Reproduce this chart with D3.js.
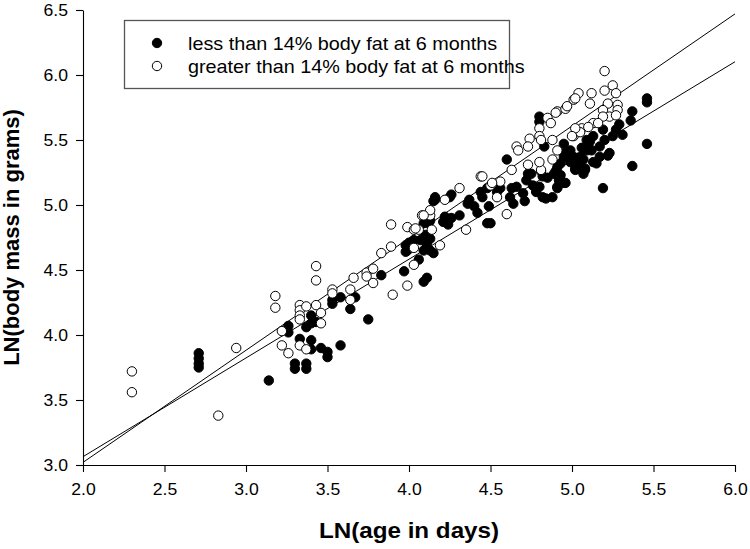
<!DOCTYPE html>
<html>
<head>
<meta charset="utf-8">
<script src="https://cdn.jsdelivr.net/npm/d3@7"></script>
<style>
  html, body { margin: 0; padding: 0; background: #fff; }
  svg { display: block; font-family: Arial, "Liberation Sans", Helvetica, sans-serif; }
</style>
</head>
<body>
<svg id="chart" width="750" height="549"></svg>
<script>
// ---- Data ----
const xTicks = [2.0, 2.5, 3.0, 3.5, 4.0, 4.5, 5.0, 5.5, 6.0];
const yTicks = [3.0, 3.5, 4.0, 4.5, 5.0, 5.5, 6.0, 6.5];
const legendLabels = ["less than 14% body fat at 6 months", "greater than 14% body fat at 6 months"];

// [LN(age in days), LN(body mass in grams)]
const leanPoints = [
  [2.71,3.86],[2.71,3.82],[2.71,3.78],[2.71,3.75],[3.14,3.65],[3.30,3.78],[3.30,3.74],[3.37,3.78],[3.37,3.74],
  [3.33,3.97],[3.40,3.96],[3.40,3.89],[3.46,3.90],[3.50,3.87],[3.50,3.83],[3.58,3.92],[3.75,4.12],[3.26,4.07],
  [3.26,4.02],[3.37,4.06],[3.40,4.15],[3.40,4.09],[3.43,4.10],[3.53,4.27],[3.53,4.24],[3.58,4.29],[3.64,4.20],
  [3.67,4.29],[3.83,4.46],[3.97,4.49],[4.09,4.41],[4.11,4.44],[3.98,4.69],[3.99,4.65],[4.03,4.73],[4.06,4.58],
  [4.09,4.65],[4.11,4.71],[4.13,4.65],[4.15,4.63],[4.10,4.77],[4.13,4.74],[4.09,4.86],[4.13,4.88],[4.16,5.04],
  [4.21,4.87],[4.22,4.91],[4.24,4.85],
  [4.80,5.68],[4.80,5.64],[4.83,5.45],[4.95,5.47],[4.99,5.42],[5.01,5.37],[5.09,5.50],[5.10,5.46],[5.12,5.42],
  [5.06,5.44],[5.05,5.37],[5.01,5.35],[5.02,5.27],[5.08,5.28],[5.07,5.24],[4.93,5.32],[4.95,5.37],[4.90,5.26],
  [4.93,5.23],[4.85,5.21],[4.91,5.14],[4.96,5.17],[4.84,5.05],[4.73,5.24],[4.72,5.19],[4.76,5.15],[4.78,5.10],
  [4.70,5.09],[4.71,5.03],[4.82,5.22],[4.80,5.14],[4.81,5.26],[4.66,5.14],[4.60,5.35],[4.63,5.13],[4.62,5.06],
  [4.64,5.01],[4.56,5.13],[4.54,5.10],[4.48,5.13],[4.44,5.10],[4.45,5.06],[4.49,4.99],[4.50,4.86],[4.48,4.86],
  [4.40,4.99],[4.37,5.04],[4.36,5.01],[4.42,4.94],[4.31,4.92],[4.26,5.08],[4.25,5.06],[4.26,4.90],[4.16,5.06],
  [4.15,5.03],[4.12,4.90],[4.12,4.86],[4.07,4.73],[4.11,4.68],[4.00,4.71],[3.98,4.64],[4.75,5.24],[4.82,5.06],
  [5.46,5.82],[5.46,5.79],[5.46,5.47],[5.37,5.30],[5.19,5.13],[5.37,5.72],[5.36,5.65],[5.29,5.62],[5.31,5.54],
  [5.27,5.58],[5.25,5.53],[5.19,5.58],[5.20,5.50],[5.17,5.45],[5.22,5.38],[5.13,5.53],[5.11,5.49],[5.09,5.42],
  [5.17,5.37],[5.15,5.32],[5.07,5.35],[5.04,5.32],[5.08,5.27],[5.02,5.28],[4.99,5.33],[4.96,5.40],[4.91,5.29],
  [4.89,5.24],[4.92,5.19],[4.95,5.17],[4.88,5.06],[5.13,5.33],[5.23,5.40],[4.91,5.13]
];

const fatPoints = [
  [2.30,3.72],[2.30,3.56],[2.83,3.38],[2.94,3.90],[3.18,4.30],[3.18,4.21],[3.22,4.03],[3.22,3.92],[3.26,3.86],
  [3.33,3.92],[3.33,4.23],[3.33,4.19],[3.33,4.15],[3.33,4.12],[3.37,4.22],[3.37,3.89],[3.43,4.23],[3.46,4.17],
  [3.46,4.09],[3.43,4.53],[3.43,4.42],[3.53,4.35],[3.53,4.32],[3.64,4.27],[3.64,4.35],[3.66,4.44],[3.74,4.48],
  [3.74,4.45],[3.78,4.51],[3.78,4.40],[3.90,4.31],[3.99,4.38],[3.83,4.63],[3.89,4.68],[3.89,4.85],[4.03,4.67],
  [4.03,4.54],[3.99,4.83],[4.03,4.81],[4.06,4.81],[4.14,4.81],[4.08,4.92],[4.13,4.92],[4.13,4.96],[4.22,5.04],
  [4.19,4.69],[4.04,4.82],[4.09,4.92],[4.35,4.81],[4.31,5.13],[4.44,5.22],[4.50,5.15],[4.54,5.06],[4.56,5.18],
  [4.60,4.93],[4.63,5.27],[4.66,5.45],[4.67,5.42],[4.74,5.51],[4.73,5.45],[4.80,5.59],[4.80,5.53],[4.81,5.50],
  [4.85,5.67],[4.87,5.63],[4.88,5.50],[4.91,5.42],[4.91,5.72],[4.96,5.74],[5.01,5.81],[5.04,5.86],[5.12,5.86],
  [5.11,5.78],[5.01,5.53],[5.06,5.59],[5.13,5.63],[4.88,5.35],[4.81,5.27],[4.80,5.33],[4.73,5.31],[4.51,5.17],
  [4.45,5.22],[5.20,6.03],[5.25,5.92],[5.20,5.88],[5.27,5.86],[5.02,5.82],[4.97,5.76],[4.90,5.71],[5.22,5.78],
  [5.28,5.77],[5.28,5.73],[5.19,5.73],[5.23,5.68],[5.27,5.69],[5.19,5.68],[5.16,5.63],[5.10,5.60],[5.05,5.56],
  [5.02,5.59],[5.00,5.53]
];

// Regression lines: [intercept, slope]
const leanFit = [1.545, 0.7595];
const fatFit = [1.295, 0.8625];
const fitRange = [2.0, 6.0];

// ---- Drawing ----
const svg = d3.select("#chart");
const x = d3.scaleLinear().domain([2.0, 6.0]).range([83, 735]);
const y = d3.scaleLinear().domain([3.0, 6.5]).range([465, 10]);
const STRETCH = 1.1;
const R = 4.7;

// Axes
const xAxis = svg.append("g").attr("transform", `translate(0,${y(3.0)})`)
  .call(d3.axisBottom(x).tickValues(xTicks).tickFormat(d3.format(".1f")).tickSize(7).tickPadding(12).tickSizeOuter(0));
const yAxis = svg.append("g").attr("transform", `translate(${x(2.0)},0)`)
  .call(d3.axisLeft(y).tickValues(yTicks).tickFormat(d3.format(".1f")).tickSize(7).tickPadding(8).tickSizeOuter(0));

[xAxis, yAxis].forEach(g => {
  g.select(".domain").attr("stroke", "#000").attr("stroke-width", 1.1);
  g.selectAll(".tick line").attr("stroke", "#000").attr("stroke-width", 1.1);
  g.selectAll(".tick text").attr("fill", "#000").attr("font-size", 16)
    .attr("font-family", "Arial, 'Liberation Sans', sans-serif");
});
xAxis.selectAll(".tick text").attr("transform", `scale(${STRETCH},1)`);
yAxis.selectAll(".tick text").attr("x", -15 / STRETCH).attr("transform", `scale(${STRETCH},1)`);

// Regression lines
const lineGen = d3.line().x(d => x(d[0])).y(d => y(d[1]));
[leanFit, fatFit].forEach(f => {
  const pts = fitRange.map(v => [v, f[0] + f[1] * v]);
  svg.append("path").attr("d", lineGen(pts)).attr("fill", "none")
    .attr("stroke", "#000").attr("stroke-width", 1);
});

// Points
svg.append("g").selectAll("circle").data(leanPoints).join("circle")
  .attr("cx", d => x(d[0])).attr("cy", d => y(d[1])).attr("r", R)
  .attr("fill", "#000").attr("stroke", "#000").attr("stroke-width", 1);
svg.append("g").selectAll("circle").data(fatPoints).join("circle")
  .attr("cx", d => x(d[0])).attr("cy", d => y(d[1])).attr("r", R)
  .attr("fill", "#fff").attr("stroke", "#000").attr("stroke-width", 1);

// Legend
const lg = svg.append("g");
lg.append("rect").attr("x", 124.5).attr("y", 20.5).attr("width", 385).attr("height", 68)
  .attr("fill", "#fff").attr("stroke", "#555").attr("stroke-width", 1.3);
const fills = ["#000", "#fff"];
legendLabels.forEach((lab, i) => {
  const cy = 43 + i * 23;
  lg.append("circle").attr("cx", 157).attr("cy", cy).attr("r", R)
    .attr("fill", fills[i]).attr("stroke", "#000").attr("stroke-width", 1);
  lg.append("text").attr("transform", `translate(188,${cy + 6.5}) scale(${STRETCH},1)`)
    .attr("font-size", 18).attr("fill", "#000").text(lab);
});

// Axis titles
svg.append("text").attr("transform", `translate(${(x(2) + x(6)) / 2},538) scale(${STRETCH},1)`)
  .attr("text-anchor", "middle").attr("font-size", 22).attr("font-weight", "bold").attr("fill", "#000")
  .text("LN(age in days)");
svg.append("text").attr("transform", `translate(18.5,${(y(3) + y(6.5)) / 2}) rotate(-90)`)
  .attr("text-anchor", "middle").attr("font-size", 22).attr("font-weight", "bold").attr("fill", "#000")
  .text("LN(body mass in grams)");
</script>
</body>
</html>
